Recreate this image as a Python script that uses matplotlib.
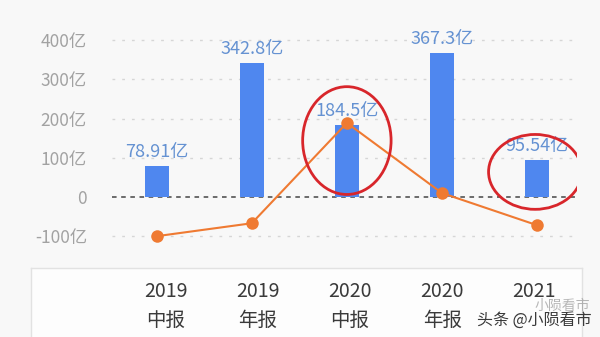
import matplotlib.pyplot as plt
from matplotlib.patches import Ellipse

plt.rcParams['font.family'] = ['Noto Sans CJK SC', 'DejaVu Sans']

# 报告期
years = ['2019', '2019', '2020', '2020', '2021']
periods = ['中报', '年报', '中报', '年报', '']
# 柱状: 营收(亿)
bar_values = [78.91, 342.8, 184.5, 367.3, 95.54]
bar_labels = ['78.91亿', '342.8亿', '184.5亿', '367.3亿', '95.54亿']
# 折线
line_values = [-100, -67, 189, 10, -72]
# 坐标轴刻度
y_ticks = [-100, 0, 100, 200, 300, 400]
y_tick_labels = ['-100亿', '0', '100亿', '200亿', '300亿', '400亿']
# 红圈标注
circle_idx = [2, 4]

W, H = 600, 337
fig = plt.figure(figsize=(6, 3.37), dpi=100)
fig.patch.set_facecolor('#f8f8f8')

ax = fig.add_axes([112 / W, 1 - 255 / H, 465 / W, 235 / H])
ax.set_facecolor('none')
x = list(range(len(bar_values)))

for t in y_ticks:
    if t == 0:
        ax.axhline(0, color='#444444', lw=1.1, ls=(0, (3, 3)), zorder=1)
    else:
        ax.axhline(t, color='#d6d6d6', lw=1.0, ls=(0, (2, 5)), zorder=0)

ax.bar(x, bar_values, width=0.25, color='#4f87ef', zorder=2)
for xi, v, lab in zip(x, bar_values, bar_labels):
    ax.text(xi, v + 12, lab, ha='center', va='bottom', fontsize=13,
            color='#6592d2', zorder=4)

ax.plot(x, line_values, color='#ef7a32', lw=1.5, marker='o', ms=9,
        markeredgewidth=0, zorder=3)

for i in circle_idx:
    if i == 2:
        e = Ellipse((i, bar_values[i] * 0.78), 0.93, 275, fill=False,
                    edgecolor='#d8262b', lw=2, zorder=5)
    else:
        e = Ellipse((i - 0.02, bar_values[i] * 0.67), 0.98, 191, fill=False,
                    edgecolor='#d8262b', lw=2, zorder=5)
    ax.add_patch(e)

ax.set_xlim(-0.47, 4.42)
ax.set_ylim(-148, 451.5)
ax.set_yticks(y_ticks)
ax.set_yticklabels(y_tick_labels)
ax.tick_params(axis='y', length=0, pad=18, labelsize=12.5, labelcolor='#a2a2a2')
ax.set_xticks([])
for s in ax.spines.values():
    s.set_visible(False)

# 底部报告期面板
ax2 = fig.add_axes([31 / W, (337 - 345) / H, 551 / W, 77 / H])
ax2.set_facecolor('#fdfdfd')
ax2.set_xlim(-1.467, 4.52)
ax2.set_ylim(0, 1)
ax2.set_xticks([])
ax2.set_yticks([])
for name, s in ax2.spines.items():
    s.set_color('#e2e2e2')
    s.set_linewidth(1)
for xi, yr, p in zip(x, years, periods):
    ax2.text(xi, 0.69, yr, ha='center', va='center', fontsize=14,
             color='#3a3a3a')
    if p:
        ax2.text(xi, 0.325, p, ha='center', va='center', fontsize=14,
                 color='#3a3a3a')

fig.text(534 / W, 1 - 320 / H, '头条 @小陨看市', ha='center', va='center',
         fontsize=11.5, color='#3a3a3a')
fig.text(562 / W, 1 - 306 / H, '小陨看市', ha='center', va='center',
         fontsize=10, color='#999999', alpha=0.7)

fig.savefig('out.png', dpi=100, facecolor=fig.get_facecolor())
